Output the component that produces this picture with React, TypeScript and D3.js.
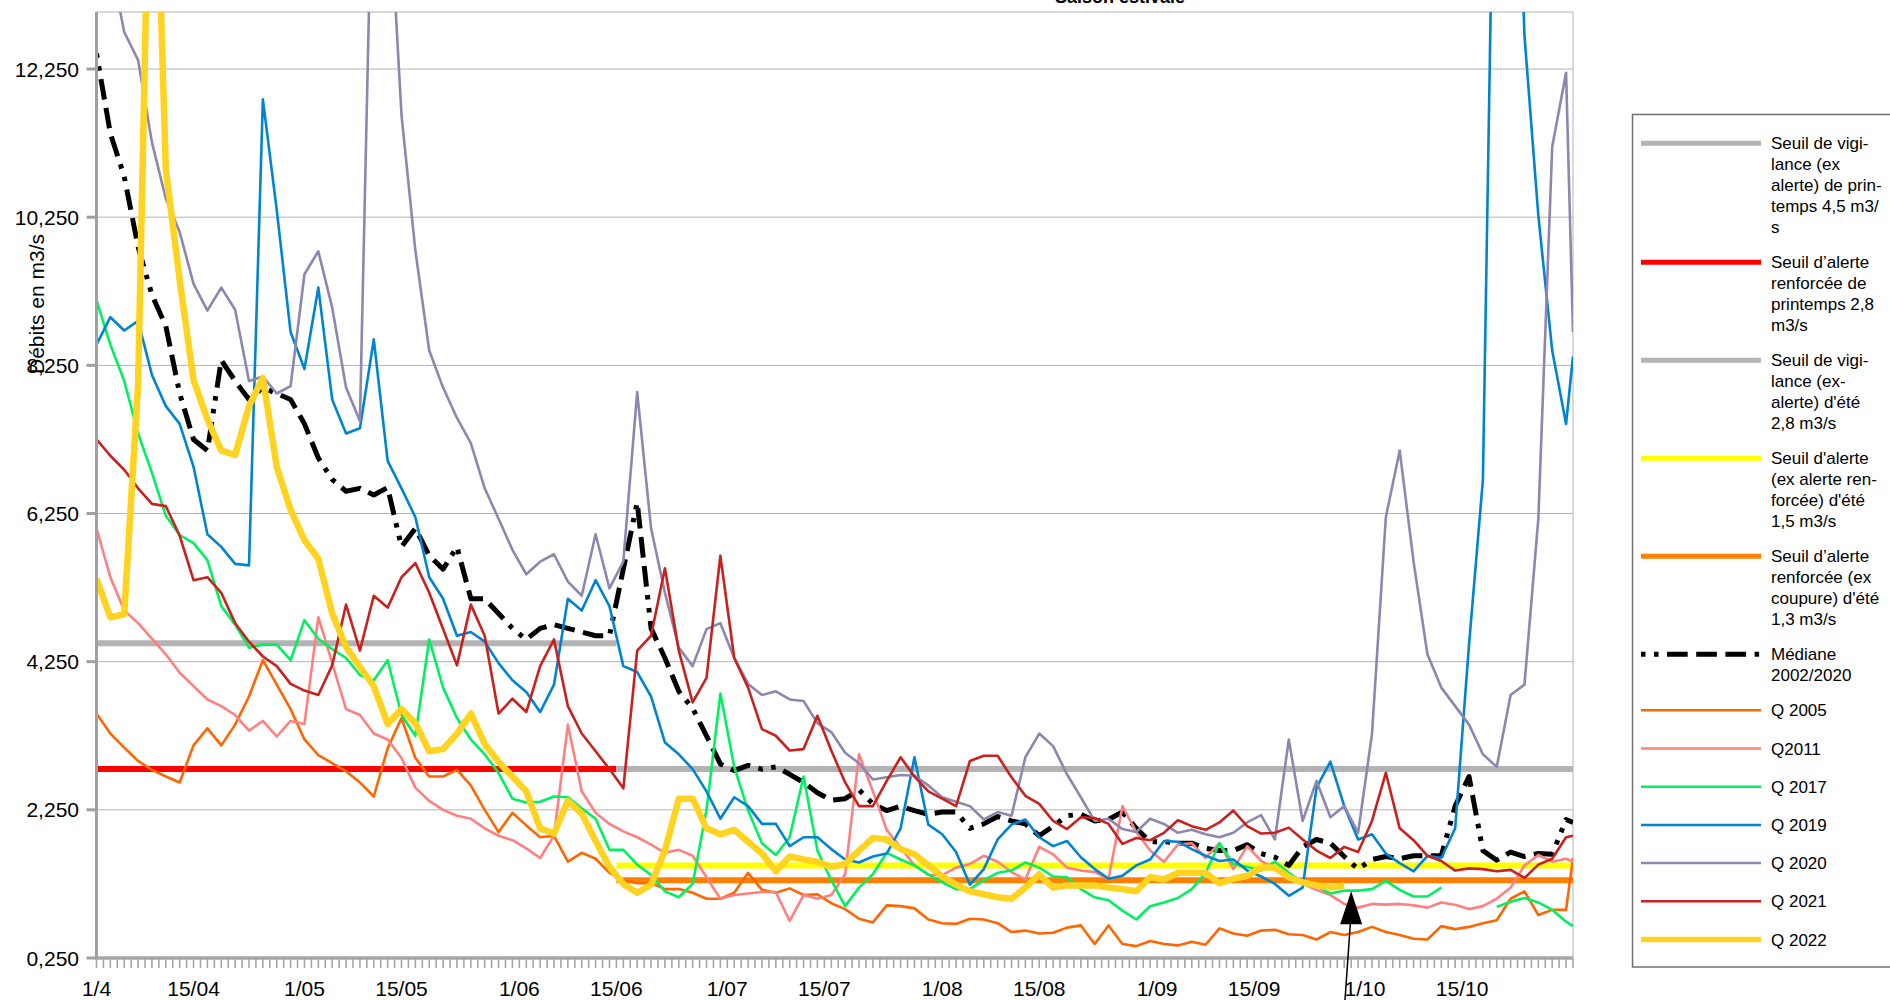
import * as React from "react"
import * as d3 from "d3"

// one value every second day from 1 April (day 0), the last one is 31 October (day 213)
const days = [...d3.range(0, 213, 2), 213]

const q2005 = [
  3.55, 3.28, 3.09, 2.91, 2.79, 2.7, 2.62, 3.12, 3.35, 3.12,
  3.4, 3.78, 4.27, 3.94, 3.61, 3.2, 2.99, 2.88, 2.77, 2.62,
  2.43, 3.08, 3.49, 2.95, 2.7, 2.7, 2.79, 2.58, 2.25, 1.95,
  2.21, 2.04, 1.88, 1.9, 1.55, 1.67, 1.59, 1.4, 1.3, 1.26,
  1.26, 1.18, 1.18, 1.13, 1.05, 1.05, 1.13, 1.4, 1.17, 1.13,
  1.19, 1.1, 1.11, 0.99, 0.91, 0.78, 0.73, 0.96, 0.95, 0.92,
  0.77, 0.72, 0.71, 0.78, 0.77, 0.72, 0.6, 0.62, 0.58, 0.59,
  0.66, 0.69, 0.44, 0.69, 0.44, 0.41, 0.48, 0.44, 0.42, 0.47,
  0.43, 0.65, 0.58, 0.55, 0.62, 0.63, 0.57, 0.56, 0.5, 0.6,
  0.56, 0.6, 0.67, 0.6, 0.56, 0.51, 0.5, 0.68, 0.64, 0.67,
  0.72, 0.76, 1.05, 1.15, 0.83, 0.9, 0.9, 1.6,
]

const q2011 = [
  6.05, 5.39, 4.94, 4.77, 4.56, 4.35, 4.1, 3.92, 3.74, 3.65,
  3.53, 3.32, 3.45, 3.24, 3.45, 3.41, 4.85, 4.23, 3.61, 3.53,
  3.28, 3.2, 2.95, 2.55, 2.37, 2.25, 2.17, 2.13, 2.0, 1.9,
  1.84, 1.73, 1.6, 1.9, 3.4, 2.5, 2.21, 2.06, 1.96, 1.88,
  1.78, 1.67, 1.71, 1.63, 1.34, 1.05, 1.1, 1.12, 1.14, 1.14,
  0.75, 1.1, 1.05, 1.1, 1.38, 3.0, 2.5, 1.98, 1.74, 1.5,
  1.37, 1.37, 1.47, 1.52, 1.63, 1.55, 1.41, 1.31, 1.75, 1.65,
  1.47, 1.43, 1.41, 1.32, 2.3, 1.95, 1.7, 1.55, 1.78, 1.8,
  1.6, 1.8, 1.45, 1.76, 1.56, 1.46, 1.36, 1.25, 1.17, 1.1,
  0.98, 0.93, 0.98, 0.97, 0.98, 0.96, 0.93, 1.0, 0.97, 0.91,
  0.95, 1.05, 1.2, 1.5, 1.64, 1.55, 1.59, 1.55,
]

const q2017 = [
  9.13, 8.53, 8.04, 7.33, 6.8, 6.22, 5.96, 5.85, 5.62, 5.0,
  4.75, 4.44, 4.48, 4.48, 4.27, 4.81, 4.56, 4.42, 4.3, 4.07,
  4.0, 4.27, 3.53, 3.25, 4.55, 3.9, 3.49, 3.2, 3.0, 2.75,
  2.4, 2.35, 2.36, 2.43, 2.42, 2.27, 2.13, 1.71, 1.71, 1.51,
  1.37, 1.15, 1.07, 1.25, 2.25, 3.82, 2.83, 2.24, 1.8, 1.64,
  1.88, 2.7, 1.7, 1.3, 0.95, 1.2, 1.38, 1.67, 1.58, 1.5,
  1.38, 1.27, 1.18, 1.18, 1.3, 1.4, 1.43, 1.54, 1.47, 1.35,
  1.34, 1.18, 1.07, 1.03, 0.89, 0.77, 0.95, 1.0, 1.06, 1.18,
  1.4, 1.8, 1.52, 1.48, 1.43, 1.55, 1.4, 1.27, 1.22, 1.12,
  1.16, 1.16, 1.18, 1.29, 1.17, 1.08, 1.08, 1.2, null, null,
  null, 0.94, 1.01, 1.06, 1.0, 0.9, 0.74, 0.68,
]

const q2019 = [
  8.53, 8.9, 8.72, 8.85, 8.12, 7.7, 7.46, 6.88, 5.97, 5.8,
  5.57, 5.55, 11.84, 10.35, 8.7, 8.2, 9.3, 7.79, 7.33, 7.4,
  8.6, 6.96, 6.59, 6.2, 5.39, 5.1, 4.6, 4.65, 4.52, 4.23,
  4.0, 3.84, 3.57, 3.94, 5.1, 4.94, 5.35, 5.0, 4.19, 4.11,
  3.78, 3.16, 3.0, 2.8, 2.5, 2.13, 2.42, 2.3, 2.06, 2.06,
  1.76, 1.88, 1.88, 1.72, 1.58, 1.54, 1.62, 1.66, 2.0, 2.96,
  2.05, 1.92, 1.68, 1.24, 1.45, 1.85, 2.05, 2.12, 1.88, 1.76,
  1.83, 1.61, 1.45, 1.32, 1.36, 1.5, 1.58, 1.83, 1.82, 1.72,
  1.63, 1.56, 1.58, 1.43, 1.35, 1.25, 1.09, 1.2, 2.55, 2.9,
  2.3, 1.85, 1.92, 1.66, 1.53, 1.42, 1.63, 1.6, 2.0, 4.48,
  6.7, 18, 18, 12.7, 10.27, 8.45, 7.46, 8.37,
]

const q2020 = [
  14.5, 13.7, 12.75, 12.37, 11.26, 10.5, 10.05, 9.35, 8.99, 9.3,
  9.0, 8.04, 8.1, 7.87, 7.97, 9.48, 9.79, 9.03, 7.95, 7.5,
  16, 15, 11.63, 9.8, 8.45, 7.95, 7.54, 7.2, 6.59, 6.18,
  5.76, 5.43, 5.6, 5.7, 5.33, 5.14, 5.97, 5.24, 5.6, 7.89,
  6.05, 5.18, 4.44, 4.19, 4.69, 4.77, 4.3, 3.95, 3.8, 3.85,
  3.74, 3.72, 3.42, 3.3, 3.02, 2.88, 2.66, 2.69, 2.72, 2.71,
  2.58, 2.42, 2.36, 2.3, 2.12, 2.22, 2.17, 2.96, 3.28, 3.11,
  2.73, 2.42, 2.1, 2.13, 1.99, 1.95, 2.13, 2.06, 1.94, 1.98,
  1.92, 1.88, 1.94, 2.08, 2.18, 1.85, 3.2, 2.1, 2.64, 2.15,
  2.3, 1.94, 3.27, 6.2, 7.1, 5.6, 4.35, 3.9, 3.65, 3.4,
  3.0, 2.83, 3.8, 3.94, 6.18, 11.2, 12.2, 8.7,
]

const q2021 = [
  7.25, 7.03, 6.84, 6.59, 6.38, 6.35, 5.95, 5.35, 5.39, 5.18,
  4.77, 4.52, 4.32, 4.19, 3.95, 3.86, 3.8, 4.2, 5.02, 4.4,
  5.14, 4.98, 5.39, 5.58, 5.18, 4.69, 4.2, 5.02, 4.6, 3.55,
  3.75, 3.57, 4.19, 4.55, 3.65, 3.28, 3.04, 2.8, 2.54, 4.4,
  4.6, 5.51, 4.4, 3.7, 4.03, 5.68, 4.3, 3.9, 3.34, 3.25,
  3.05, 3.07, 3.52, 3.05, 2.62, 2.3, 2.3, 2.64, 2.96, 2.7,
  2.5, 2.4, 2.3, 2.91, 2.98, 2.98, 2.69, 2.44, 2.33, 2.1,
  1.99, 2.15, 2.14, 2.06, 1.79, 1.87, 1.84, 1.94, 2.11, 2.03,
  1.98, 2.08, 2.24, 2.03, 1.93, 1.94, 2.01, 1.85, 1.7, 1.6,
  1.75, 1.68, 2.1, 2.75, 2.0, 1.84, 1.63, 1.56, 1.43, 1.46,
  1.45, 1.42, 1.44, 1.33, 1.51, 1.59, 1.88, 1.9,
]

const q2022 = [
  5.37, 4.85, 4.89, 8.0, 17, 10.9, 9.4, 8.05, 7.52, 7.1,
  7.04, 7.7, 8.08, 6.88, 6.3, 5.89, 5.64, 4.9, 4.45, 4.18,
  3.92, 3.41, 3.61, 3.42, 3.04, 3.07, 3.28, 3.55, 3.14, 2.9,
  2.7, 2.5, 2.0, 1.93, 2.37, 2.2, 1.83, 1.48, 1.25, 1.13,
  1.24, 1.7, 2.4, 2.4, 2.0, 1.92, 1.98, 1.82, 1.66, 1.42,
  1.62, 1.58, 1.55, 1.48, 1.52, 1.7, 1.87, 1.85, 1.72, 1.65,
  1.5, 1.35, 1.24, 1.15, 1.11, 1.07, 1.05, 1.2, 1.38, 1.2,
  1.23, 1.23, 1.23, 1.2, 1.18, 1.15, 1.34, 1.31, 1.4, 1.4,
  1.4, 1.26, 1.32, 1.36, 1.47, 1.47, 1.34, 1.27, 1.23, 1.2,
  1.23, null, null, null, null, null, null, null, null, null,
  null, null, null, null, null, null, null, null,
]

const median = [
  12.46, 11.38, 10.8, 9.85, 9.2, 8.78, 7.87, 7.25, 7.1, 8.32,
  8.04, 7.79, 7.95, 7.87, 7.79, 7.46, 7.0, 6.71, 6.55, 6.59,
  6.5, 6.6, 5.8, 6.05, 5.68, 5.5, 5.8, 5.1, 5.1, 4.9,
  4.7, 4.55, 4.7, 4.75, 4.7, 4.65, 4.6, 4.6, 5.5, 6.4,
  4.7, 4.3, 3.85, 3.62, 3.25, 2.87, 2.78, 2.85, 2.8, 2.83,
  2.73, 2.62, 2.48, 2.38, 2.4, 2.52, 2.33, 2.24, 2.3, 2.24,
  2.19, 2.22, 2.22, 2.0, 2.06, 2.16, 2.1, 2.06, 1.9, 2.03,
  2.17, 2.19, 2.1, 2.12, 2.22, 2.0, 1.82, 1.82, 1.8, 1.8,
  1.73, 1.7, 1.7, 1.78, 1.66, 1.61, 1.5, 1.75, 1.85, 1.8,
  1.62, 1.45, 1.58, 1.62, 1.59, 1.63, 1.63, 1.63, 2.3, 2.7,
  1.7, 1.57, 1.68, 1.62, 1.66, 1.65, 2.12, 2.08,
]

// thresholds in m3/s
const springDays = [0, 75] // 1/4 -> 15/06
const summerDays = [75, 213] // 15/06 -> 31/10
const springThresholds = [4.5, 2.8]
const summerThresholds = [2.8, 1.5, 1.3]

const tickDays = [0, 14, 30, 44, 61, 75, 91, 105, 122, 136, 153, 167, 183, 197]
const tickLabels = ["1/4", "15/04", "1/05", "15/05", "1/06", "15/06", "1/07", "15/07", "1/08", "15/08", "1/09", "15/09", "1/10", "15/10"]
const yTicks = [0.25, 2.25, 4.25, 6.25, 8.25, 10.25, 12.25]

const legendLabels = [
  ["Seuil de vigi-", "lance (ex", "alerte) de prin-", "temps 4,5 m3/", "s"],
  ["Seuil d\u2019alerte", "renforcée de", "printemps 2,8", "m3/s"],
  ["Seuil de vigi-", "lance (ex-", "alerte) d'été", "2,8 m3/s"],
  ["Seuil d'alerte", "(ex alerte ren-", "forcée) d'été", "1,5 m3/s"],
  ["Seuil d\u2019alerte", "renforcée (ex", "coupure) d'été", "1,3 m3/s"],
  ["Médiane", "2002/2020"],
  ["Q 2005"],
  ["Q2011"],
  ["Q 2017"],
  ["Q 2019"],
  ["Q 2020"],
  ["Q 2021"],
  ["Q 2022"],
]

const MEDIAN_DASH = "4.5 8.5 4.5 8.5 20.7 8.5 20.7 8.5 20.7 8.5"
const FONT = "'Liberation Sans', Arial, sans-serif"

type Style = { color: string; width: number; dash?: string }

const springStyles: Style[] = [
  { color: "#b3b3b3", width: 6 },
  { color: "#ff0000", width: 6 },
]
const summerStyles: Style[] = [
  { color: "#b3b3b3", width: 6 },
  { color: "#ffff00", width: 6 },
  { color: "#ff8000", width: 6 },
]

const series: { values: (number | null)[]; style: Style }[] = [
  { values: median, style: { color: "#000000", width: 5, dash: MEDIAN_DASH } },
  { values: q2005, style: { color: "#ff6600", width: 2.6 } },
  { values: q2011, style: { color: "#ff8080", width: 2.6 } },
  { values: q2017, style: { color: "#00f060", width: 2.6 } },
  { values: q2019, style: { color: "#0084d1", width: 2.6 } },
  { values: q2020, style: { color: "#8e86ae", width: 2.6 } },
  { values: q2021, style: { color: "#c9211e", width: 2.6 } },
  { values: q2022, style: { color: "#ffd320", width: 6.5 } },
]

const legendStyles: Style[] = [
  { color: "#b3b3b3", width: 5 },
  { color: "#ff0000", width: 5 },
  { color: "#b3b3b3", width: 5 },
  { color: "#ffff00", width: 5 },
  { color: "#ff8000", width: 5 },
  ...series.map((s) => ({ ...s.style, width: s.style.width === 6.5 ? 5.5 : s.style.width === 2.6 ? 2.5 : s.style.width })),
]

export default function App() {
  const width = 1890
  const height = 1000
  const plot = { left: 96.5, right: 1573, top: 12, bottom: 958 }

  const x = d3.scaleLinear().domain([0, 213]).range([plot.left, plot.right])
  const y = d3.scaleLinear().domain([0.25, 13.02]).range([plot.bottom, plot.top])

  const line = d3
    .line<[number, number | null]>()
    .defined((d) => d[1] != null)
    .x((d) => x(d[0]))
    .y((d) => y(d[1] as number))

  const fmt = (v: number) => d3.format(".3f")(v).replace(".", ",")

  // legend rows
  const legendX = 1632.5
  const legendTop = 114.5
  const sampleX1 = 1641
  const sampleX2 = 1761
  const textX = 1771
  const lineH = 21
  let cursor = 143.3
  const legendRows = legendLabels.map((lines, i) => {
    const row = { lines, y: cursor, style: legendStyles[i] }
    cursor += lines.length === 1 ? 38.2 : lines.length * lineH + 14
    return row
  })

  const arrowTip = { x: x(181), y: y(1.15) }

  return (
    <div style={{ position: "absolute", left: 0, top: 0 }}>
      <svg width={width} height={height} viewBox={`0 0 ${width} ${height}`} style={{ display: "block", background: "#fff" }}>
        <defs>
          <clipPath id="plot-clip">
            <rect x={plot.left} y={plot.top} width={plot.right - plot.left} height={plot.bottom - plot.top} />
          </clipPath>
        </defs>

        {/* title, mostly outside of the page */}
        <text x={1120} y={3} textAnchor="middle" fontFamily={FONT} fontSize={18} fontWeight="bold" fill="#000">
          Saison estivale
        </text>

        {/* grid */}
        {yTicks.map((t) => (
          <line key={t} x1={plot.left} x2={plot.right} y1={y(t)} y2={y(t)} stroke="#b3b3b3" strokeWidth={1} />
        ))}
        <line x1={plot.left} x2={plot.right} y1={plot.top} y2={plot.top} stroke="#b3b3b3" strokeWidth={1} />
        <line x1={plot.right} x2={plot.right} y1={plot.top} y2={plot.bottom} stroke="#b3b3b3" strokeWidth={1} />

        {/* thresholds */}
        <g clipPath="url(#plot-clip)">
          {springThresholds.map((v, i) => (
            <line
              key={"s" + i}
              x1={x(springDays[0])}
              x2={x(springDays[1])}
              y1={y(v)}
              y2={y(v)}
              stroke={springStyles[i].color}
              strokeWidth={springStyles[i].width}
            />
          ))}
          {summerThresholds.map((v, i) => (
            <line
              key={"e" + i}
              x1={x(summerDays[0])}
              x2={x(summerDays[1])}
              y1={y(v)}
              y2={y(v)}
              stroke={summerStyles[i].color}
              strokeWidth={summerStyles[i].width}
            />
          ))}

          {/* flows */}
          {series.map((s, i) => (
            <path
              key={i}
              d={line(days.map((d, j) => [d, s.values[j]] as [number, number | null])) || ""}
              fill="none"
              stroke={s.style.color}
              strokeWidth={s.style.width}
              strokeDasharray={s.style.dash}
              strokeLinejoin="round"
            />
          ))}
        </g>

        {/* y axis */}
        <line x1={plot.left} x2={plot.left} y1={plot.top} y2={plot.bottom + 1.5} stroke="#a0a0a0" strokeWidth={3} />
        {yTicks.map((t) => (
          <g key={t}>
            <line x1={plot.left - 10} x2={plot.left} y1={y(t)} y2={y(t)} stroke="#a0a0a0" strokeWidth={3} />
            <text x={79} y={y(t)} dy="0.36em" textAnchor="end" fontFamily={FONT} fontSize={21} fill="#000">
              {fmt(t)}
            </text>
          </g>
        ))}
        <text
          transform={`translate(44, 304) rotate(-90)`}
          textAnchor="middle"
          fontFamily={FONT}
          fontSize={21}
          fill="#000"
        >
          Débits en m3/s
        </text>

        {/* x axis: one small tick per day */}
        {d3.range(0, 214).map((d) => (
          <line key={d} x1={x(d)} x2={x(d)} y1={plot.bottom} y2={plot.bottom + 10} stroke="#a6a6a6" strokeWidth={1.6} />
        ))}
        <line x1={plot.left - 1.5} x2={plot.right} y1={plot.bottom} y2={plot.bottom} stroke="#a6a6a6" strokeWidth={3.5} />
        {tickDays.map((d, i) => (
          <text key={d} x={x(d)} y={996} textAnchor="middle" fontFamily={FONT} fontSize={21} fill="#000">
            {tickLabels[i]}
          </text>
        ))}

        {/* arrow pointing at the last 2022 value */}
        <line x1={1345} y1={1000} x2={arrowTip.x} y2={arrowTip.y + 20} stroke="#000" strokeWidth={1.5} />
        <path
          d={`M${arrowTip.x},${arrowTip.y} L${arrowTip.x - 11},${arrowTip.y + 33} L${arrowTip.x + 11},${arrowTip.y + 33} Z`}
          fill="#000"
        />

        {/* legend */}
        <rect x={legendX} y={legendTop} width={320} height={852.5} fill="#fff" stroke="#707070" strokeWidth={1.5} />
        {legendRows.map((r, i) => (
          <g key={i}>
            <line
              x1={sampleX1}
              x2={sampleX2}
              y1={r.y}
              y2={r.y}
              stroke={r.style.color}
              strokeWidth={r.style.width}
              strokeDasharray={r.style.dash}
            />
            <text fontFamily={FONT} fontSize={17} fill="#000">
              {r.lines.map((t, k) => (
                <tspan key={k} x={textX} y={r.y + 6 + k * lineH}>
                  {t}
                </tspan>
              ))}
            </text>
          </g>
        ))}
      </svg>
    </div>
  )
}
